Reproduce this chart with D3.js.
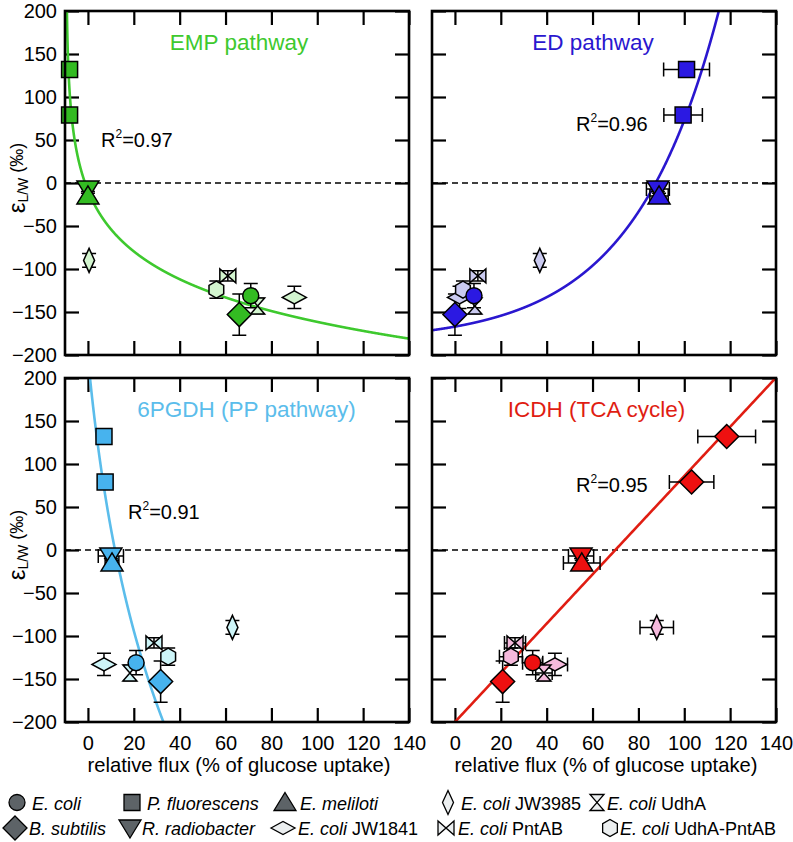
<!DOCTYPE html>
<html><head><meta charset="utf-8">
<script src="https://cdn.jsdelivr.net/npm/d3@7"></script>
<style>body{margin:0;background:#fff} text{font-family:"Liberation Sans",Arial,Helvetica,sans-serif}</style>
</head><body><svg id="c" width="793" height="842"></svg>
<script>
// ---------- data ----------
const pointNames = ["E. coli","P. fluorescens","P. fluorescens","R. radiobacter","B. subtilis","E. meliloti","E. coli JW3985","E. coli JW1841","E. coli UdhA","E. coli PntAB","E. coli UdhA-PntAB"];
const pointShapes = ["circle","square","square","triangleDown","diamond","triangle","thinDiamond","flatDiamond","hourglass","bowtie","hexagon"];
const isMutant = [false,false,false,false,false,false,true,true,true,true,true];
const epsilonValues = [-131,132,79,-7,-153,-15,-90,-133,-143,-108,-124];
const epsilonErrors = [14,3,3,3,24,3,8,13,9,6,10];

const fluxEMP = [71,-8,-8,0,66,0,0.5,90,74,61,56];
const fluxErrEMP = [0,0,0,0,0,0,0,0,0,0,0];
const fluxED = [8.3,101,99.5,88.5,0,89,37,2,8.7,10,3.5];
const fluxErrED = [0,10,8.4,5,0,4,0,0,0,0,0];
const fluxPP = [21,7,7.5,10,31.7,10.5,63,7,18.3,28.8,35];
const fluxErrPP = [0,0,0,5.5,0,3,1,0,0,0,0];
const fluxTCA = [33.9,118.5,103.2,55,20.8,55.3,88,43.6,38.8,26.2,24.4];
const fluxErrTCA = [4.4,12.6,9.7,5.5,0,8,7.3,5.5,3.6,4.6,5];

const panelTitles = ["EMP pathway","ED pathway","6PGDH (PP pathway)","ICDH (TCA cycle)"];
const rSquaredLabels = ["0.97","0.96","0.91","0.95"];
const xTickValues = [0,20,40,60,80,100,120,140];
const yTickValues = [-200,-150,-100,-50,0,50,100,150,200];
const xAxisTitle = "relative flux (% of glucose uptake)";

// fit models (parameters estimated from the figure)
const fitEMP = {a:132, b:62.5, c:9.5};          // y = a - b ln(x + c)
const fitED  = {a:-185, b:18, k:0.02662};        // y = a + b exp(k x)
const fitPP  = {a:943.5, b:302.8, c:10.75};      // y = a - b ln(x + c)
const fitTCA = {m:2.86, q:-200};                 // y = m x + q

const legendRow1 = ["E. coli","P. fluorescens","E. meliloti","E. coli JW3985","E. coli UdhA"];
const legendRow2 = ["B. subtilis","R. radiobacter","E. coli JW1841","E. coli PntAB","E. coli UdhA-PntAB"];

// ---------- styles / layout ----------
const W = 344, H = 344;
const panels = [
  {left:65, top:11, flux:fluxEMP, err:fluxErrEMP, line:"#3ec92e", dark:"#33bb22", light:"#d3f5cf",
   fit:x=>fitEMP.a - fitEMP.b*Math.log(x+fitEMP.c), xmin:-9.45, titleX:174, r2:[36,136], yLabels:true, xLabels:false},
  {left:432, top:11, flux:fluxED, err:fluxErrED, line:"#2a17cf", dark:"#2b19e2", light:"#cacaf0",
   fit:x=>fitED.a + fitED.b*Math.exp(fitED.k*x), xmin:-10, titleX:161, r2:[144,120], yLabels:false, xLabels:false},
  {left:65, top:378, flux:fluxPP, err:fluxErrPP, line:"#5bbdeb", dark:"#47b3ee", light:"#cdf5f8",
   fit:x=>fitPP.a - fitPP.b*Math.log(x+fitPP.c), xmin:-10, titleX:181.5, r2:[63,141], yLabels:true, xLabels:true},
  {left:432, top:378, flux:fluxTCA, err:fluxErrTCA, line:"#e01d12", dark:"#ee1010", light:"#f5b9dc",
   fit:x=>fitTCA.m*x + fitTCA.q, xmin:0, titleX:164.5, r2:[144,114], yLabels:false, xLabels:true, shapeOverride:{1:"diamond",2:"diamond"}}
];

function shapePath(s){
  switch(s){
    case "circle": return "M8,0A8,8 0 1,1 -8,0A8,8 0 1,1 8,0Z";
    case "square": return "M-8,-8H8V8H-8Z";
    case "triangle": return "M0,-10L11,8H-11Z";
    case "triangleDown": return "M0,10L11,-8H-11Z";
    case "diamond": return "M0,-12L12,0L0,12L-12,0Z";
    case "thinDiamond": return "M0,-12L5.5,0L0,12L-5.5,0Z";
    case "flatDiamond": return "M-12,0L0,-6.5L12,0L0,6.5Z";
    case "hourglass": return "M-7,-8H7L-7,8H7Z";
    case "bowtie": return "M-8,-7V7L8,-7V7Z";
    case "hexagon": return "M0,-8.5L7.36,-4.25L7.36,4.25L0,8.5L-7.36,4.25L-7.36,-4.25Z";
  }
}

const svg = d3.select("#c");
const x = d3.scaleLinear().domain([-10,140]).range([0,W]);
const y = d3.scaleLinear().domain([-200,200]).range([H,0]);
const FONT = '"Liberation Sans",Arial,Helvetica,sans-serif';

panels.forEach((p,pi)=>{
  const g = svg.append("g").attr("transform",`translate(${p.left},${p.top})`);
  const cid = "clip"+pi;
  g.append("clipPath").attr("id",cid).append("rect").attr("width",W).attr("height",H);

  const styleAxis = a => { a.select(".domain").remove();
    a.attr("font-size",20).attr("font-family",FONT);
    a.selectAll("line").attr("stroke","#000").attr("stroke-width",2.2);
    a.selectAll("text").attr("fill","#000"); };
  g.append("g").attr("transform",`translate(0,${H})`)
    .call(d3.axisBottom(x).tickValues(xTickValues).tickSize(-14).tickPadding(14)
      .tickFormat(p.xLabels ? d3.format("d") : ""))
    .call(styleAxis);
  g.append("g")
    .call(d3.axisTop(x).tickValues(xTickValues).tickSize(-14).tickFormat(""))
    .call(styleAxis);
  g.append("g")
    .call(d3.axisLeft(y).tickValues(yTickValues).tickSize(-14).tickPadding(8)
      .tickFormat(p.yLabels ? d3.format("d") : ""))
    .call(styleAxis);
  g.append("g").attr("transform",`translate(${W},0)`)
    .call(d3.axisRight(y).tickValues(yTickValues).tickSize(-14).tickFormat(""))
    .call(styleAxis);

  g.append("line").attr("x1",0).attr("x2",W).attr("y1",y(0)).attr("y2",y(0))
    .attr("stroke","#000").attr("stroke-width",1.6).attr("stroke-dasharray","6,4");

  const xs = d3.range(p.xmin, 140.01, 0.05);
  g.append("path").attr("clip-path",`url(#${cid})`)
    .datum(xs)
    .attr("d", d3.line().x(d=>x(d)).y(d=>y(Math.max(-400,Math.min(400,p.fit(d))))))
    .attr("fill","none").attr("stroke",p.line).attr("stroke-width",2.6);

  g.append("text").attr("x",p.titleX).attr("y",39).attr("text-anchor","middle")
    .attr("font-size",22.5).attr("fill",p.line).text(panelTitles[pi]);

  const rt = g.append("text").attr("x",p.r2[0]).attr("y",p.r2[1]).attr("font-size",20).attr("fill","#000");
  rt.append("tspan").text("R");
  rt.append("tspan").attr("font-size",12).attr("dy",-9).text("2");
  rt.append("tspan").attr("dy",9).text("=" + rSquaredLabels[pi]);

  const pts = pointNames.map((n,i)=>({i, name:n, fx:p.flux[i], fe:p.err[i], ey:epsilonValues[i], ee:epsilonErrors[i],
    shape:(p.shapeOverride && p.shapeOverride[i]) || pointShapes[i], mutant:isMutant[i]}));

  const eb = g.append("g").attr("stroke","#000").attr("stroke-width",1.5).attr("fill","none");
  pts.forEach(d=>{
    const cx = x(d.fx), cy = y(d.ey);
    if (d.ee>0){
      const y1 = y(d.ey+d.ee), y2 = y(d.ey-d.ee);
      eb.append("path").attr("d",`M${cx},${y1}V${y2}M${cx-7},${y1}H${cx+7}M${cx-7},${y2}H${cx+7}`);
    }
    if (d.fe>0){
      const x1 = x(d.fx-d.fe), x2 = x(d.fx+d.fe);
      eb.append("path").attr("d",`M${x1},${cy}H${x2}M${x1},${cy-7}V${cy+7}M${x2},${cy-7}V${cy+7}`);
    }
  });

  const order = pts.filter(d=>d.mutant).concat(pts.filter(d=>!d.mutant));
  g.append("g").selectAll("path").data(order).join("path")
    .attr("transform",d=>`translate(${x(d.fx)},${y(d.ey)})`)
    .attr("d",d=>shapePath(d.shape))
    .attr("fill",d=>d.mutant ? p.light : p.dark)
    .attr("stroke","#000").attr("stroke-width",1.5).attr("stroke-linejoin","miter");

  g.append("rect").attr("width",W).attr("height",H).attr("fill","none")
    .attr("stroke","#000").attr("stroke-width",2.6);

  if (p.xLabels){
    g.append("text").attr("x",W/2+2).attr("y",H+50).attr("text-anchor","middle")
      .attr("font-size",20.2).attr("fill","#000").text(xAxisTitle);
  }
  if (p.yLabels){
    const t = svg.append("text").attr("transform",`translate(25,${p.top+H/2-5}) rotate(-90)`)
      .attr("text-anchor","middle").attr("fill","#000");
    t.append("tspan").attr("font-size",24).text("ε");
    t.append("tspan").attr("font-size",14).attr("dy",3).text("L/W");
    t.append("tspan").attr("font-size",18).attr("dy",-5).text(" (‰)");
  }
});

// ---------- legend ----------
const legendCols1 = [[17,32],[132,147],[285,300],[448,461],[597,607]];
const legendCols2 = [[15,29],[130,142],[283,298],[446,458],[610,620]];
const legendShapes1 = ["circle","square","triangle","thinDiamond","hourglass"];
const legendShapes2 = ["diamond","triangleDown","flatDiamond","bowtie","hexagon"];
const legendMut1 = [false,false,false,true,true];
const legendMut2 = [false,false,true,true,true];

function drawLegendRow(labels, cols, shapes, muts, cy, baseline){
  labels.forEach((lab,i)=>{
    svg.append("path").attr("transform",`translate(${cols[i][0]},${cy})`)
      .attr("d",shapePath(shapes[i]))
      .attr("fill",muts[i] ? "#eceff0" : "#5d6367")
      .attr("stroke","#000").attr("stroke-width",1.3);
    const t = svg.append("text").attr("x",cols[i][1]).attr("y",baseline).attr("font-size",18).attr("fill","#000");
    const m = lab.match(/^(E\. coli)( .+)$/);
    if (m){
      t.append("tspan").attr("font-style","italic").text(m[1]);
      t.append("tspan").text(m[2]);
    } else {
      t.append("tspan").attr("font-style","italic").text(lab);
    }
  });
}
drawLegendRow(legendRow1, legendCols1, legendShapes1, legendMut1, 802.5, 809.5);
drawLegendRow(legendRow2, legendCols2, legendShapes2, legendMut2, 828, 835);
</script></body></html>
